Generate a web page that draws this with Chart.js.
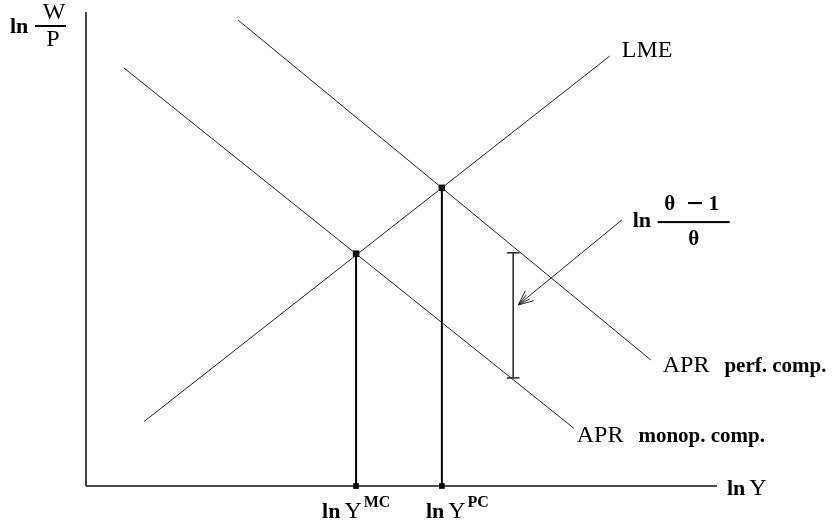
<!DOCTYPE html>
<html><head><meta charset="utf-8">
<script src="https://cdn.jsdelivr.net/npm/chart.js@4/dist/chart.umd.min.js"></script>
<style>html,body{margin:0;padding:0;background:#fff}#wrap{width:834px;height:524px}</style>
</head><body><div id="wrap"><canvas id="c" width="834" height="524"></canvas></div>
<script>
// ---- diagram data (arbitrary units: x 0..100 = ln Y, y 0..100 = ln W/P) ----
const curveNames = ['LME', 'APR', 'APR'];
const curveNotes = ['', 'perf. comp.', 'monop. comp.'];
const lmeX  = [9.2, 83.0];   const lmeY  = [13.6, 90.7];
const perfX = [24.1, 89.5];  const perfY = [98.3, 26.6];
const monoX = [6.0, 77.3];   const monoY = [88.2, 12.2];
const eqX   = [42.8, 56.4];  const eqY   = [49.0, 62.9];
const eqSup = ['MC', 'PC'];
const gapX  = [67.7];        const gapY  = [22.8, 49.2];
const arrowX = [84.9, 68.5]; const arrowY = [56.1, 38.2];
const axisX = [0, 100];      const axisY = [0, 100];
const axisTitles = ['ln Y', 'ln', 'W', 'P'];

const pts = (xs, ys) => xs.map((x, i) => ({x, y: ys[i]}));
const lineDs = (data, color, w) => ({data, showLine: true, borderColor: color, borderWidth: w,
  pointRadius: 0, fill: false, clip: false, tension: 0});

const capHalf = 1.0;
const datasets = [
  lineDs(pts(axisX, [0, 0]), '#111', 1.6),
  lineDs(pts([0, 0], axisY), '#444', 2),
  lineDs(pts(lmeX, lmeY), '#222', 1),
  lineDs(pts(perfX, perfY), '#222', 1),
  lineDs(pts(monoX, monoY), '#222', 1),
  lineDs(pts([eqX[0], eqX[0]], [0, eqY[0]]), '#000', 2),
  lineDs(pts([eqX[1], eqX[1]], [0, eqY[1]]), '#000', 2),
  lineDs(pts([gapX[0], gapX[0]], gapY), '#333', 1.6),
  lineDs(pts([gapX[0] - capHalf, gapX[0] + capHalf], [gapY[0], gapY[0]]), '#333', 1.6),
  lineDs(pts([gapX[0] - capHalf, gapX[0] + capHalf], [gapY[1], gapY[1]]), '#333', 1.6),
  lineDs(pts(arrowX, arrowY), '#222', 1),
  {data: pts(eqX, eqY), pointStyle: 'rect', pointRadius: 4.6, backgroundColor: '#000', borderColor: '#000', borderWidth: 0, clip: false},
  {data: pts(eqX, [0, 0]), pointStyle: 'rect', pointRadius: 4, backgroundColor: '#000', borderColor: '#000', borderWidth: 0, clip: false}
];

const FONT = '"Liberation Serif", "Times New Roman", serif';
const labelPlugin = {
  id: 'labels',
  afterDatasetsDraw(chart) {
    const ctx = chart.ctx, sx = chart.scales.x, sy = chart.scales.y;
    const px = v => sx.getPixelForValue(v), py = v => sy.getPixelForValue(v);
    ctx.save();
    ctx.fillStyle = '#000';
    ctx.textBaseline = 'alphabetic';
    ctx.textAlign = 'left';
    const caps = 'normal 24px ' + FONT, notes = 'bold 21px ' + FONT, ln = 'bold 22px ' + FONT;
    // curve labels
    ctx.font = caps;
    ctx.fillText(curveNames[0], px(lmeX[1]) + 12, py(lmeY[1]) + 1);
    const drawPair = (name, note, x, y) => {
      ctx.font = caps; ctx.fillText(name, x, y);
      const w = ctx.measureText(name).width;
      ctx.font = notes; ctx.fillText(note, x + w + 15, y);
    };
    drawPair(curveNames[1], curveNotes[1], px(perfX[1]) + 12, py(perfY[1]) + 12);
    drawPair(curveNames[2], curveNotes[2], px(monoX[1]) + 3, py(monoY[1]) + 14);
    // x-axis title
    const lnY = (x, y) => {
      ctx.font = ln; ctx.fillText('ln', x, y);
      const w = ctx.measureText('ln').width;
      ctx.font = caps; ctx.fillText('Y', x + w + 4, y);
      return x + w + 4 + ctx.measureText('Y').width;
    };
    lnY(px(axisX[1]) + 10, py(0) + 9);
    // equilibrium tick labels
    const offs = [-34, -16];
    eqX.forEach((v, i) => {
      const e = lnY(px(v) + offs[i], py(0) + 32);
      ctx.font = 'bold 16px ' + FONT;
      ctx.fillText(eqSup[i], e + 2, py(0) + 21);
    });
    // y-axis title  ln W/P
    const ax = px(0);
    ctx.font = ln; ctx.fillText(axisTitles[1], ax - 76, 33);
    ctx.font = caps; ctx.textAlign = 'center';
    ctx.fillText(axisTitles[2], ax - 32, 19);
    ctx.fillText(axisTitles[3], ax - 33, 46);
    ctx.fillRect(ax - 51, 25, 31, 2);
    // theta label
    const tx = px(arrowX[0]), ty = py(arrowY[0]);
    ctx.textAlign = 'left';
    ctx.font = ln; ctx.fillText('ln', tx + 11, ty + 7);
    ctx.fillRect(tx + 36, ty + 1, 72, 2);
    ctx.font = 'bold 21px ' + FONT; ctx.textAlign = 'center';
    ctx.fillText('θ', tx + 48, ty - 10);
    ctx.fillText('1', tx + 92, ty - 10);
    ctx.fillText('θ', tx + 72, ty + 25);
    ctx.font = 'bold 30px ' + FONT;
    ctx.fillText('−', tx + 73, ty - 7);
    // arrow head
    const x0 = px(arrowX[0]), y0 = py(arrowY[0]), x1 = px(arrowX[1]), y1 = py(arrowY[1]);
    const ang = Math.atan2(y0 - y1, x0 - x1);
    ctx.strokeStyle = '#222'; ctx.lineWidth = 1;
    ctx.beginPath();
    [[0.42, 16], [-0.42, 16], [0.2, 13], [-0.2, 13]].forEach(([a, l]) => {
      ctx.moveTo(x1, y1);
      ctx.lineTo(x1 + l * Math.cos(ang + a), y1 + l * Math.sin(ang + a));
    });
    ctx.stroke();
    ctx.restore();
  }
};

new Chart(document.getElementById('c'), {
  type: 'scatter',
  data: {datasets},
  options: {
    responsive: false, animation: false, devicePixelRatio: 1,
    layout: {padding: {left: 86, right: 117, top: 12, bottom: 38}},
    plugins: {legend: {display: false}, tooltip: {enabled: false}},
    scales: {
      x: {type: 'linear', min: axisX[0], max: axisX[1], display: false},
      y: {type: 'linear', min: axisY[0], max: axisY[1], display: false}
    }
  },
  plugins: [labelPlugin]
});
</script>
</body></html>
